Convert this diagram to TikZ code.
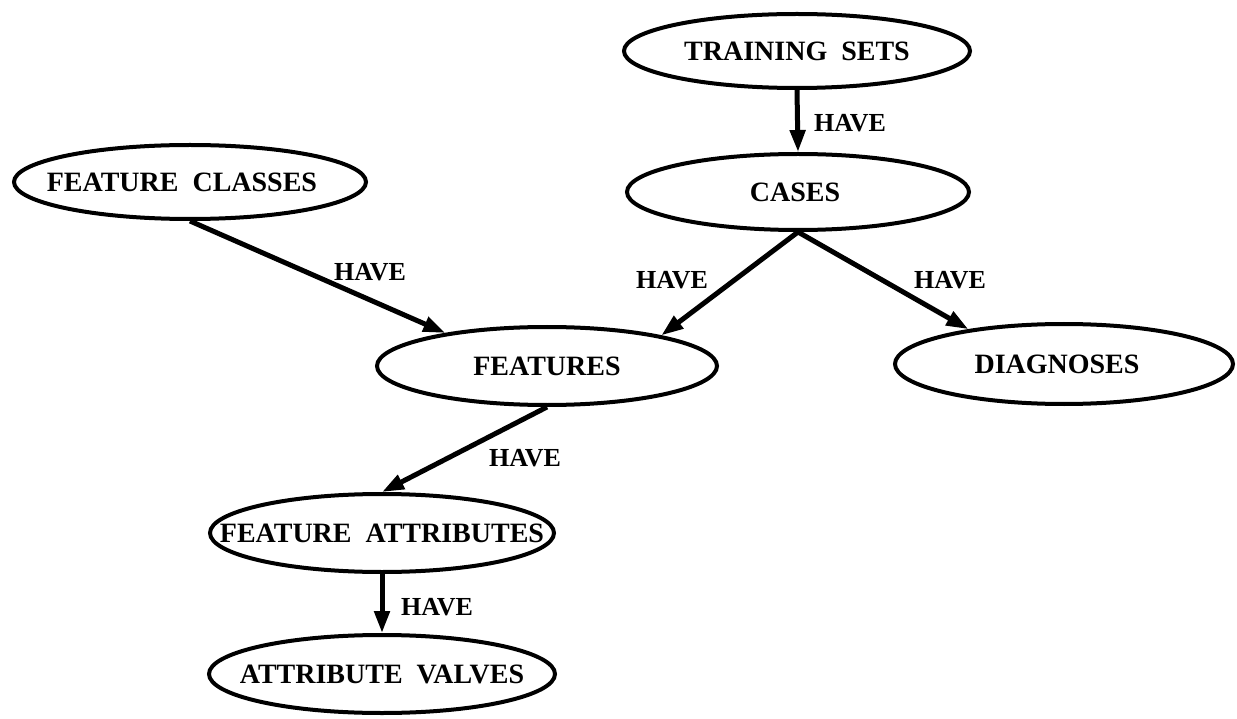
\documentclass[tikz,border=0pt]{standalone}
\usepackage{fontspec}
\setmainfont{Liberation Serif}
\usetikzlibrary{shapes.geometric,arrows.meta}
\tikzset{
  ent/.style={ellipse, draw, line width=4pt, inner xsep=-60pt, inner ysep=0pt,
    font=\bfseries\fontsize{28}{30}\selectfont},
  rel/.style={line width=5pt, -{Triangle[length=22pt,width=15pt]}},
  lbl/.style={inner sep=0pt, font=\bfseries\fontsize{26}{28}\selectfont}
}
\begin{document}
\begin{tikzpicture}[x=1pt,y=-1pt]
\useasboundingbox (0,0) rectangle (1237,719);
\node[ent, minimum width=346pt, minimum height=74pt] (ts)   at (797,51)  {TRAINING\ \ SETS};
\node[ent, minimum width=342pt, minimum height=76pt] (cases) at (798,192) {CASES\kern6pt};
\node[ent, minimum width=352pt, minimum height=74pt] (fc)   at (190,182) {FEATURE\ \ CLASSES\kern16pt};
\node[ent, minimum width=340pt, minimum height=78pt] (feat) at (547,366) {FEATURES};
\node[ent, minimum width=338pt, minimum height=80pt] (diag) at (1064,364) {DIAGNOSES\kern14pt};
\node[ent, minimum width=344pt, minimum height=78pt] (fa)   at (382,533) {FEATURE\ \ ATTRIBUTES};
\node[ent, minimum width=346pt, minimum height=78pt] (av)   at (382,674) {ATTRIBUTE\ \ VALVES};

\draw[rel] (ts.south) -- (cases.north);
\draw[rel] (fc.south) -- (feat.162);
\draw[rel] (cases.south) -- (feat.15);
\draw[rel] (cases.south) -- (diag.160);
\draw[rel] (feat.south) -- (fa.north);
\draw[rel] (fa.south) -- (av.north);

\node[lbl] (l1) at (850,123) {HAVE};
\node[lbl] (l2) at (370,272) {HAVE};
\node[lbl] (l3) at (672,280) {HAVE};
\node[lbl] (l4) at (950,280) {HAVE};
\node[lbl] (l5) at (525,458) {HAVE};
\node[lbl] (l6) at (437,607) {HAVE};
\end{tikzpicture}
\end{document}
